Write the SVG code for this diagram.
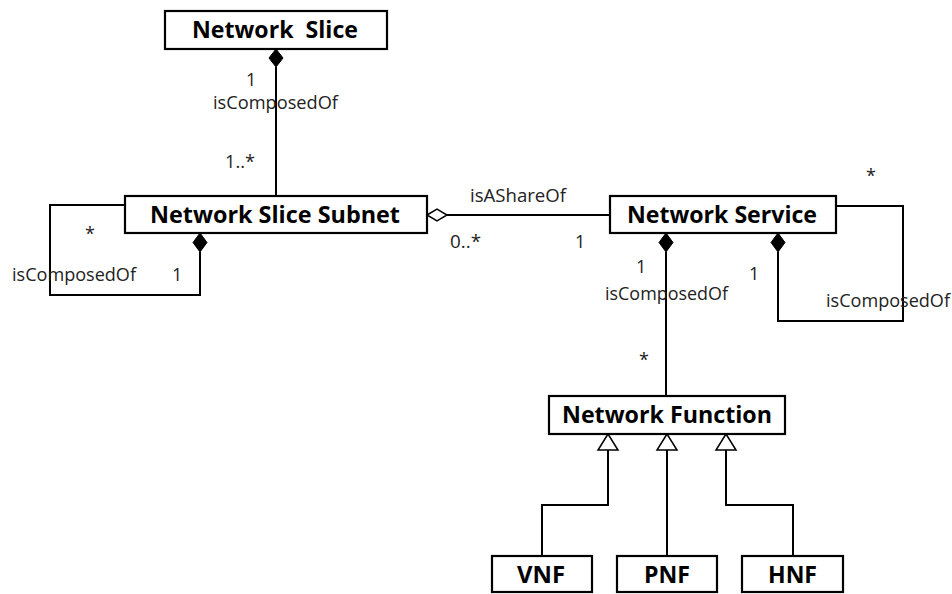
<svg xmlns="http://www.w3.org/2000/svg" width="952" height="594" viewBox="0 0 952 594">
<style>
.box{fill:#fff;stroke:#000;stroke-width:2.2}
.t{font-family:"Open Sans","Noto Sans","DejaVu Sans",sans-serif;font-weight:bold;font-size:24px;fill:#000;white-space:pre}
.l{font-family:"Open Sans","Noto Sans","DejaVu Sans",sans-serif;font-size:18px;fill:#222}
.c{fill:none;stroke:#000;stroke-width:2}
.fd{fill:#000;stroke:#000;stroke-width:1}
.hd{fill:#fff;stroke:#000;stroke-width:1.5}
</style>
<rect width="952" height="594" fill="#fff"/>
<g id="connectors">
  <path class="c" d="M276 67 V196"/>
  <path class="fd" d="M276 49 L283 58 L276 67 L269 58 Z"/>
  <path class="c" d="M125 205 H50 V295 H200 V252"/>
  <path class="fd" d="M200 233 L207 242.5 L200 252 L193 242.5 Z"/>
  <path class="c" d="M447 215 H610"/>
  <path class="hd" d="M427 215 L437 209 L447 215 L437 221 Z"/>
  <path class="c" d="M666 252 V396"/>
  <path class="fd" d="M666 233 L673 242.5 L666 252 L659 242.5 Z"/>
  <path class="c" d="M836 206 H903 V321 H778 V252"/>
  <path class="fd" d="M778 233 L785 242.5 L778 252 L771 242.5 Z"/>
  <path class="c" d="M608 450 V505 H542 V556"/>
  <path class="c" d="M667 450 V556"/>
  <path class="c" d="M726 450 V505 H793 V556"/>
  <path class="hd" d="M608 434 L618 450 L598 450 Z"/>
  <path class="hd" d="M667 434 L677 450 L657 450 Z"/>
  <path class="hd" d="M726 434 L736 450 L716 450 Z"/>
</g>
<g id="labels">
  <text class="l" x="246" y="86">1</text>
  <text class="l" x="213" y="109" textLength="125" lengthAdjust="spacingAndGlyphs">isComposedOf</text>
  <text class="l" x="225" y="168" textLength="30" lengthAdjust="spacingAndGlyphs">1..*</text>
  <text class="l" x="85" y="240">*</text>
  <text class="l" x="12" y="281" textLength="124" lengthAdjust="spacingAndGlyphs">isComposedOf</text>
  <text class="l" x="172" y="281">1</text>
  <text class="l" x="470" y="202" textLength="96" lengthAdjust="spacingAndGlyphs">isAShareOf</text>
  <text class="l" x="450" y="248" textLength="31" lengthAdjust="spacingAndGlyphs">0..*</text>
  <text class="l" x="575" y="248">1</text>
  <text class="l" x="866" y="182">*</text>
  <text class="l" x="636" y="273">1</text>
  <text class="l" x="605" y="300" textLength="123" lengthAdjust="spacingAndGlyphs">isComposedOf</text>
  <text class="l" x="749" y="280">1</text>
  <text class="l" x="826" y="307" textLength="124" lengthAdjust="spacingAndGlyphs">isComposedOf</text>
  <text class="l" x="639" y="366">*</text>
</g>
<g id="network-slice">
  <rect class="box" x="165" y="11" width="222" height="38"/>
  <text class="t" x="192" y="38" textLength="166" lengthAdjust="spacingAndGlyphs">Network  Slice</text>
</g>
<g id="network-slice-subnet">
  <rect class="box" x="125" y="196" width="302" height="37"/>
  <text class="t" x="150" y="223" textLength="250" lengthAdjust="spacingAndGlyphs">Network Slice Subnet</text>
</g>
<g id="network-service">
  <rect class="box" x="610" y="196" width="226" height="37"/>
  <text class="t" x="627" y="223" textLength="190" lengthAdjust="spacingAndGlyphs">Network Service</text>
</g>
<g id="network-function">
  <rect class="box" x="549" y="396" width="236" height="38"/>
  <text class="t" x="562" y="423" textLength="210" lengthAdjust="spacingAndGlyphs">Network Function</text>
</g>
<g id="vnf">
  <rect class="box" x="492" y="556" width="100" height="36"/>
  <text class="t" x="517" y="583" textLength="48" lengthAdjust="spacingAndGlyphs">VNF</text>
</g>
<g id="pnf">
  <rect class="box" x="617" y="556" width="100" height="36"/>
  <text class="t" x="644" y="583" textLength="46" lengthAdjust="spacingAndGlyphs">PNF</text>
</g>
<g id="hnf">
  <rect class="box" x="742" y="556" width="101" height="36"/>
  <text class="t" x="768" y="583" textLength="49" lengthAdjust="spacingAndGlyphs">HNF</text>
</g>
</svg>
